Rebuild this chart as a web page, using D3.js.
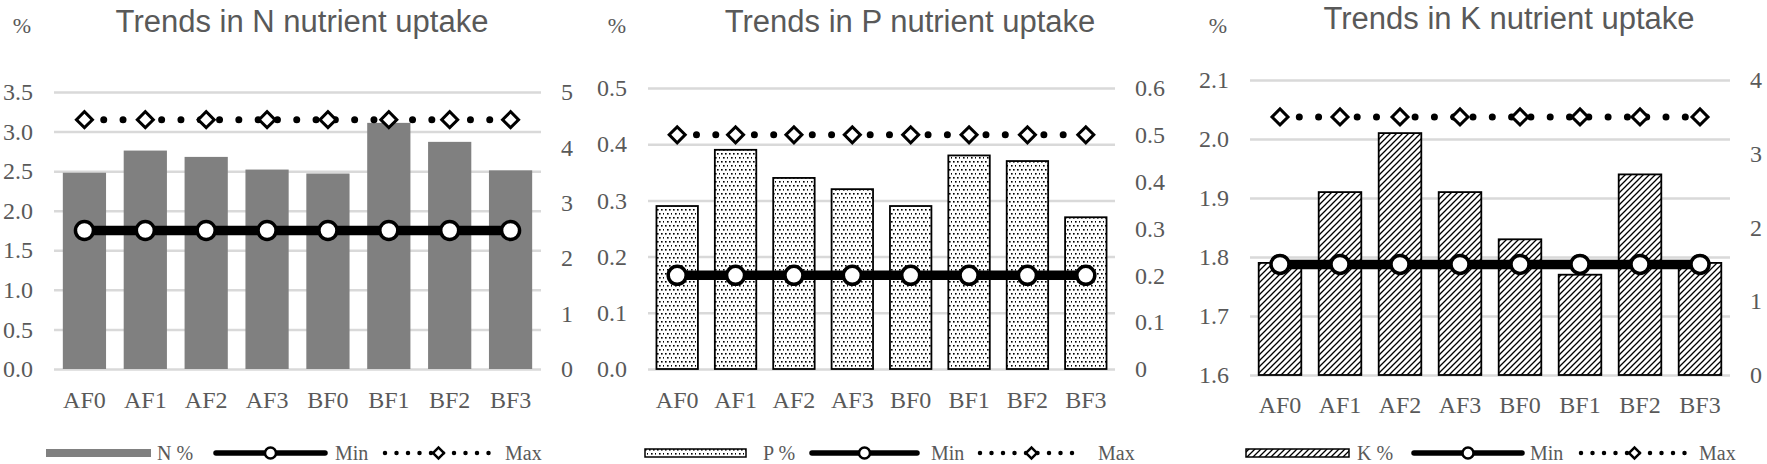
<!DOCTYPE html>
<html>
<head>
<meta charset="utf-8">
<script src="https://cdn.jsdelivr.net/npm/d3@7"></script>
<style>
  body { margin: 0; background: #fff; }
  svg { display: block; }
  .tick text { fill: #595959; }
</style>
</head>
<body>
<div id="chart"></div>
<script>
// categories shared by the three panels
var categories = ['AF0', 'AF1', 'AF2', 'AF3', 'BF0', 'BF1', 'BF2', 'BF3']

// N panel
var nPercent = [2.48, 2.76, 2.68, 2.52, 2.47, 3.11, 2.87, 2.51]
var nMin = [2.5, 2.5, 2.5, 2.5, 2.5, 2.5, 2.5, 2.5]
var nMax = [4.5, 4.5, 4.5, 4.5, 4.5, 4.5, 4.5, 4.5]
var nLeftTicks = [0, 0.5, 1, 1.5, 2, 2.5, 3, 3.5]
var nRightTicks = [0, 1, 2, 3, 4, 5]

// P panel
var pPercent = [0.29, 0.39, 0.34, 0.32, 0.29, 0.38, 0.37, 0.27]
var pMin = [0.2, 0.2, 0.2, 0.2, 0.2, 0.2, 0.2, 0.2]
var pMax = [0.5, 0.5, 0.5, 0.5, 0.5, 0.5, 0.5, 0.5]
var pLeftTicks = [0, 0.1, 0.2, 0.3, 0.4, 0.5]
var pRightTicks = [0, 0.1, 0.2, 0.3, 0.4, 0.5, 0.6]

// K panel
var kPercent = [1.79, 1.91, 2.01, 1.91, 1.83, 1.77, 1.94, 1.79]
var kMin = [1.5, 1.5, 1.5, 1.5, 1.5, 1.5, 1.5, 1.5]
var kMax = [3.5, 3.5, 3.5, 3.5, 3.5, 3.5, 3.5, 3.5]
var kLeftTicks = [1.6, 1.7, 1.8, 1.9, 2.0, 2.1]
var kRightTicks = [0, 1, 2, 3, 4]

var serif = "'Liberation Serif', 'Times New Roman', serif"
var sans = "'Liberation Sans', Arial, sans-serif"
var textColor = '#595959'
var gridColor = '#d9d9d9'

var svg = d3.select('#chart').append('svg')
    .attr('width', 1767)
    .attr('height', 464)

// bar fill patterns
var defs = svg.append('defs')
var dots = defs.append('pattern')
    .attr('id', 'dots')
    .attr('patternUnits', 'userSpaceOnUse')
    .attr('width', 8).attr('height', 8)
dots.append('rect').attr('width', 8).attr('height', 8).attr('fill', '#fff')
;[[1, 1], [5, 1], [3, 5], [7, 5]].forEach(function (c) {
    dots.append('rect')
        .attr('x', c[0]).attr('y', c[1])
        .attr('width', 1.6).attr('height', 1.6)
        .attr('fill', '#000')
})

var hatch = defs.append('pattern')
    .attr('id', 'hatch')
    .attr('patternUnits', 'userSpaceOnUse')
    .attr('width', 6).attr('height', 6)
hatch.append('rect').attr('width', 6).attr('height', 6).attr('fill', '#fff')
hatch.append('path')
    .attr('d', 'M-1,1 l2,-2 M0,6 l6,-6 M5,7 l2,-2')
    .attr('stroke', '#000')
    .attr('stroke-width', 1.3)

var panels = [
    {
        title: 'Trends in N nutrient uptake', label: 'N %',
        values: nPercent, min: nMin, max: nMax,
        leftTicks: nLeftTicks, rightTicks: nRightTicks,
        leftFormat: d3.format('.1f'), rightFormat: d3.format('~g'),
        fill: '#808080', stroke: 'none',
        x0: 54, x1: 541, yTop: 92, yBot: 369,
        percentX: 22, titleX: 302, titleY: 32, catPad: 22,
        legend: { rect: [46, 151], text: 157, line: [216, 325], min: 335, dot: [385, 492], max: 505 }
    },
    {
        title: 'Trends in P nutrient uptake', label: 'P %',
        values: pPercent, min: pMin, max: pMax,
        leftTicks: pLeftTicks, rightTicks: pRightTicks,
        leftFormat: d3.format('.1f'), rightFormat: d3.format('~g'),
        fill: 'url(#dots)', stroke: '#000',
        x0: 648, x1: 1115, yTop: 88, yBot: 369,
        percentX: 617, titleX: 910, titleY: 32, catPad: 22,
        legend: { rect: [645, 746], text: 763, line: [812, 917], min: 931, dot: [980, 1083], max: 1098 }
    },
    {
        title: 'Trends in K nutrient uptake', label: 'K %',
        values: kPercent, min: kMin, max: kMax,
        leftTicks: kLeftTicks, rightTicks: kRightTicks,
        leftFormat: d3.format('.1f'), rightFormat: d3.format('~g'),
        fill: 'url(#hatch)', stroke: '#000',
        x0: 1250, x1: 1730, yTop: 80, yBot: 375,
        percentX: 1218, titleX: 1509, titleY: 29, catPad: 21,
        legend: { rect: [1246, 1349], text: 1357, line: [1414, 1522], min: 1530, dot: [1581, 1688], max: 1699 }
    }
]

panels.forEach(drawPanel)

function drawPanel(p) {
    var g = svg.append('g')

    var x = d3.scaleBand()
        .domain(categories)
        .range([p.x0, p.x1])
        .paddingInner(0.29)
        .paddingOuter(0.145)
    var yL = d3.scaleLinear()
        .domain(d3.extent(p.leftTicks))
        .range([p.yBot, p.yTop])
    var yR = d3.scaleLinear()
        .domain(d3.extent(p.rightTicks))
        .range([p.yBot, p.yTop])

    // gridlines
    var grid = g.append('g')
        .attr('transform', 'translate(' + p.x0 + ',0)')
        .call(d3.axisLeft(yL).tickValues(p.leftTicks).tickSize(-(p.x1 - p.x0)).tickFormat(''))
    grid.select('.domain').remove()
    grid.selectAll('line').attr('stroke', gridColor).attr('stroke-width', 2.5)

    // left axis labels
    var gl = g.append('g')
        .attr('transform', 'translate(' + p.x0 + ',0)')
        .call(d3.axisLeft(yL).tickValues(p.leftTicks).tickFormat(p.leftFormat).tickSize(0).tickPadding(21))
    gl.select('.domain').remove()
    gl.attr('font-family', serif).attr('font-size', 24)

    // right axis labels
    var gr = g.append('g')
        .attr('transform', 'translate(' + p.x1 + ',0)')
        .call(d3.axisRight(yR).tickValues(p.rightTicks).tickFormat(p.rightFormat).tickSize(0).tickPadding(20))
    gr.select('.domain').remove()
    gr.attr('font-family', serif).attr('font-size', 24)

    // category labels
    var gx = g.append('g')
        .attr('transform', 'translate(0,' + p.yBot + ')')
        .call(d3.axisBottom(x).tickSize(0).tickPadding(p.catPad))
    gx.select('.domain').remove()
    gx.attr('font-family', serif).attr('font-size', 24)

    // bars
    g.append('g').selectAll('rect')
        .data(p.values)
        .enter().append('rect')
        .attr('x', function (d, i) { return x(categories[i]) })
        .attr('width', x.bandwidth())
        .attr('y', function (d) { return yL(d) })
        .attr('height', function (d) { return p.yBot - yL(d) })
        .attr('fill', p.fill)
        .attr('stroke', p.stroke)
        .attr('stroke-width', 1.8)

    var cx = function (d, i) { return x(categories[i]) + x.bandwidth() / 2 }
    var line = d3.line().x(cx).y(function (d) { return yR(d) })

    // Min series
    g.append('path')
        .datum(p.min)
        .attr('d', line)
        .attr('fill', 'none')
        .attr('stroke', '#000')
        .attr('stroke-width', 9.5)
    g.append('g').selectAll('circle')
        .data(p.min)
        .enter().append('circle')
        .attr('cx', cx)
        .attr('cy', function (d) { return yR(d) })
        .attr('r', 9)
        .attr('fill', '#fff')
        .attr('stroke', '#000')
        .attr('stroke-width', 3.5)

    // Max series
    g.append('path')
        .datum(p.max)
        .attr('d', line)
        .attr('fill', 'none')
        .attr('stroke', '#000')
        .attr('stroke-width', 7)
        .attr('stroke-linecap', 'round')
        .attr('stroke-dasharray', '0 19.3')
    var diamond = d3.symbol().type(d3.symbolSquare).size(128)
    g.append('g').selectAll('path')
        .data(p.max)
        .enter().append('path')
        .attr('d', diamond)
        .attr('transform', function (d, i) { return 'translate(' + cx(d, i) + ',' + yR(d) + ') rotate(45)' })
        .attr('fill', '#fff')
        .attr('stroke', '#000')
        .attr('stroke-width', 3)

    // title and unit
    g.append('text')
        .attr('x', p.titleX)
        .attr('y', p.titleY)
        .attr('text-anchor', 'middle')
        .style('font-family', sans)
        .style('font-size', '31px')
        .style('fill', textColor)
        .text(p.title)
    g.append('text')
        .attr('x', p.percentX)
        .attr('y', 33)
        .attr('text-anchor', 'middle')
        .style('font-family', serif)
        .style('font-size', '22px')
        .style('fill', textColor)
        .text('%')

    // legend
    var lg = p.legend
    var ly = 453
    var legend = g.append('g')
    legend.append('rect')
        .attr('x', lg.rect[0])
        .attr('y', ly - 4)
        .attr('width', lg.rect[1] - lg.rect[0])
        .attr('height', 8)
        .attr('fill', p.fill)
        .attr('stroke', p.stroke)
        .attr('stroke-width', 1.5)
    legend.append('line')
        .attr('x1', lg.line[0]).attr('x2', lg.line[1])
        .attr('y1', ly).attr('y2', ly)
        .attr('stroke', '#000')
        .attr('stroke-width', 5.5)
        .attr('stroke-linecap', 'round')
    legend.append('circle')
        .attr('cx', (lg.line[0] + lg.line[1]) / 2)
        .attr('cy', ly)
        .attr('r', 5.5)
        .attr('fill', '#fff')
        .attr('stroke', '#000')
        .attr('stroke-width', 2.5)
    legend.append('line')
        .attr('x1', lg.dot[0]).attr('x2', lg.dot[1])
        .attr('y1', ly).attr('y2', ly)
        .attr('stroke', '#000')
        .attr('stroke-width', 4.5)
        .attr('stroke-linecap', 'round')
        .attr('stroke-dasharray', '0 11.5')
    legend.append('path')
        .attr('d', d3.symbol().type(d3.symbolSquare).size(60))
        .attr('transform', 'translate(' + (lg.dot[0] + lg.dot[1]) / 2 + ',' + ly + ') rotate(45)')
        .attr('fill', '#fff')
        .attr('stroke', '#000')
        .attr('stroke-width', 2.5)

    var legendText = [[lg.text, p.label], [lg.min, 'Min'], [lg.max, 'Max']]
    legend.selectAll('text.lt')
        .data(legendText)
        .enter().append('text')
        .attr('class', 'lt')
        .attr('x', function (d) { return d[0] })
        .attr('y', ly + 7)
        .style('font-family', serif)
        .style('font-size', '20px')
        .style('fill', textColor)
        .text(function (d) { return d[1] })
}
</script>
</body>
</html>
